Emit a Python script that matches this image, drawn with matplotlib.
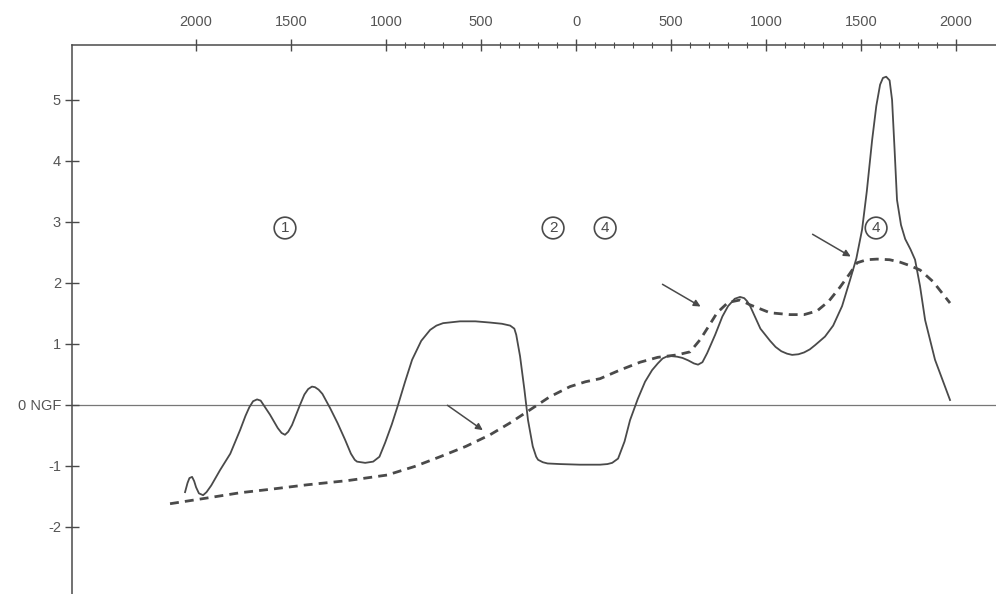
import matplotlib.pyplot as plt
import numpy as np

plt.rcParams['font.family'] = ['Liberation Sans', 'DejaVu Sans']

# années (négatif = av. J.-C.) et niveaux (m NGF)
annees_trait = [-2058, -2045, -2035, -2021, -2010, -2000, -1985, -1963, -1945, -1920, -1874, -1820,
                -1768, -1740, -1720, -1700, -1679, -1660, -1645, -1611, -1570, -1550, -1532, -1515,
                -1495, -1453, -1430, -1410, -1390, -1374, -1355, -1335, -1295, -1255, -1216, -1185,
                -1165, -1153, -1110, -1068, -1035, -1005, -970, -937, -900, -863, -815, -768, -735,
                -700, -611, -530, -453, -390, -347, -325, -315, -295, -272, -253, -228, -210, -200,
                -175, -150, -84, 20, 126, 165, 190, 221, 255, 284, 325, 363, 400, 430, 455, 475, 500,
                532, 560, 590, 620, 642, 665, 690, 732, 770, 800, 835, 863, 885, 900, 916, 945, 970,
                1021, 1050, 1080, 1110, 1137, 1170, 1200, 1230, 1258, 1310, 1353, 1400, 1442, 1475,
                1505, 1530, 1558, 1580, 1600, 1615, 1632, 1650, 1663, 1676, 1689, 1710, 1732, 1760,
                1784, 1810, 1837, 1889, 1930, 1968]
niveau_trait = [-1.43, -1.28, -1.20, -1.18, -1.25, -1.35, -1.45, -1.48, -1.43, -1.32, -1.07, -0.80,
                -0.41, -0.18, -0.04, 0.06, 0.09, 0.07, 0.00, -0.16, -0.38, -0.46, -0.49, -0.44,
                -0.33, 0.00, 0.17, 0.26, 0.30, 0.29, 0.25, 0.18, -0.05, -0.30, -0.57, -0.80,
                -0.90, -0.93, -0.95, -0.93, -0.85, -0.62, -0.32, 0.00, 0.38, 0.74, 1.05, 1.23, 1.30,
                1.34, 1.37, 1.37, 1.35, 1.33, 1.30, 1.25, 1.15, 0.80, 0.25, -0.25, -0.68, -0.85, -0.90,
                -0.94, -0.96, -0.97, -0.98, -0.98, -0.97, -0.95, -0.88, -0.60, -0.25, 0.10, 0.38, 0.57,
                0.68, 0.76, 0.79, 0.80, 0.79, 0.77, 0.73, 0.68, 0.66, 0.70, 0.85, 1.15, 1.45, 1.62,
                1.74, 1.77, 1.75, 1.70, 1.62, 1.42, 1.25, 1.05, 0.95, 0.88, 0.84, 0.82, 0.83, 0.86,
                0.91, 0.98, 1.12, 1.30, 1.62, 2.05, 2.40, 2.87, 3.50, 4.34, 4.90, 5.25, 5.36, 5.38,
                5.32, 5.00, 4.20, 3.36, 2.95, 2.72, 2.55, 2.38, 1.95, 1.39, 0.74, 0.40, 0.08]

annees_tirets = [-2137, -1950, -1768, -1600, -1416, -1200, -995, -850, -716, -580, -453, -350,
                 -242, -140, -32, 50, 126, 230, 337, 430, 532, 600, 653, 700, 742, 800, 863, 916,
                 1021, 1126, 1200, 1268, 1330, 1389, 1440, 1479, 1530, 1584, 1650, 1705, 1760, 1811,
                 1879, 1968]
niveau_tirets = [-1.62, -1.53, -1.44, -1.38, -1.31, -1.24, -1.15, -1.01, -0.85, -0.68, -0.49, -0.30,
                 -0.08, 0.13, 0.30, 0.38, 0.43, 0.57, 0.70, 0.78, 0.82, 0.87, 1.07, 1.30, 1.51,
                 1.68, 1.72, 1.64, 1.51, 1.48, 1.48, 1.54, 1.70, 1.93, 2.15, 2.33, 2.38, 2.39, 2.38,
                 2.34, 2.28, 2.21, 2.02, 1.67]

etiquettes_x = ['2000', '1500', '1000', '500', '0', '500', '1000', '1500', '2000']
positions_x = [-2000, -1500, -1000, -500, 0, 500, 1000, 1500, 2000]
etiquettes_y = ['-2', '-1', '0 NGF', '1', '2', '3', '4', '5']
positions_y = [-2, -1, 0, 1, 2, 3, 4, 5]

# phases numérotées (année, niveau, texte)
phases_x = [-1532, -121, 153, 1579]
phases_y = [2.90, 2.90, 2.90, 2.90]
phases_txt = ['1', '2', '4', '4']

# flèches : (queue) -> (tête)
fleches_x0 = [-689, 442, 1232]
fleches_y0 = [0.02, 2.0, 2.82]
fleches_x1 = [-479, 668, 1458]
fleches_y1 = [-0.44, 1.59, 2.41]

gris = '#4a4a4a'
gris_txt = '#555555'

fig = plt.figure(figsize=(9.96, 5.94), dpi=100)
ax = fig.add_axes([72 / 996, 0, 924 / 996, 549 / 594])
ax.set_xlim(-2653, 2210)
ax.set_ylim(-3.1, 5.9)

ax.axhline(0, color='#777777', lw=0.9, zorder=1)

ax.plot(annees_trait, niveau_trait, color=gris, lw=1.3, zorder=3)
ax.plot(annees_tirets, niveau_tirets, color=gris, lw=2.0, ls=(0, (3.2, 2.2)), zorder=2)

for x, y, t in zip(phases_x, phases_y, phases_txt):
    ax.text(x, y, t, ha='center', va='center', fontsize=11, color=gris,
            bbox=dict(boxstyle='circle,pad=0.25', fc='white', ec=gris, lw=1.2))

for x0, y0, x1, y1 in zip(fleches_x0, fleches_y0, fleches_x1, fleches_y1):
    ax.annotate('', xy=(x1, y1), xytext=(x0, y0),
                arrowprops=dict(arrowstyle='-|>', color=gris, lw=1.1, mutation_scale=10))

# axes : haut et gauche seulement
for s in ['right', 'bottom']:
    ax.spines[s].set_visible(False)
for s in ['top', 'left']:
    ax.spines[s].set_color(gris)
    ax.spines[s].set_linewidth(1.1)

ax.xaxis.tick_top()
ax.set_xticks(positions_x)
ax.set_xticklabels(etiquettes_x)
ax.set_xticks(np.arange(-1000, 2001, 100), minor=True)
ax.tick_params(axis='x', which='major', direction='inout', length=9, width=1.0, colors=gris,
               labelcolor=gris_txt, labelsize=10.5, pad=7)
ax.tick_params(axis='x', which='minor', direction='inout', length=5, width=0.8, colors=gris)

ax.set_yticks(positions_y)
ax.set_yticklabels(etiquettes_y)
ax.tick_params(axis='y', direction='inout', length=10, width=1.0, colors=gris,
               labelcolor=gris_txt, labelsize=10.5, pad=3)

fig.savefig('out.png', dpi=100)
